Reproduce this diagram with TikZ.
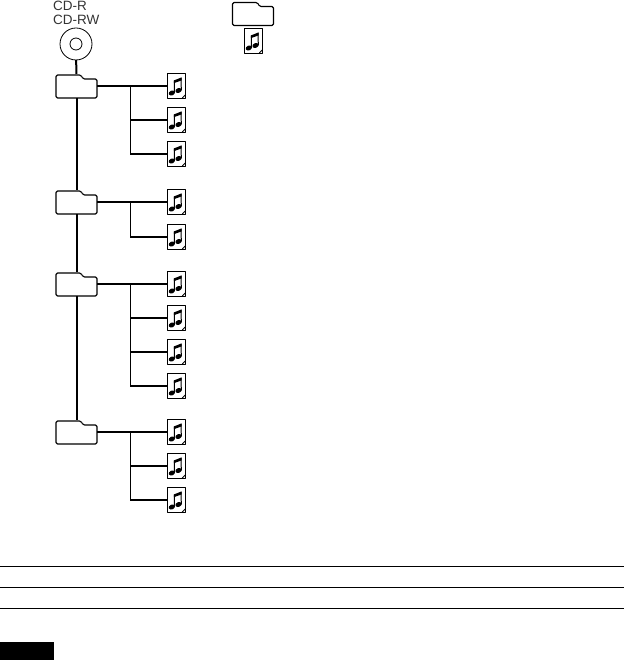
\documentclass[tikz,border=0pt]{standalone}
\usepackage{fontspec}
\setmainfont{Liberation Sans}
\usetikzlibrary{calc, positioning}
\definecolor{labelgrey}{gray}{0.2}
\tikzset{
  link/.style={line width=2pt},
  armlink/.style={line width=1.6pt},
  outline/.style={line width=1.1pt, line join=round},
  sheet/.style={minimum width=18.5pt, minimum height=25pt, inner sep=0pt, outer sep=0pt},
  foldernode/.style={minimum width=41pt, minimum height=24pt, inner sep=0pt, outer sep=0pt},
  rule/.style={line width=1.1pt},
  disclabel/.style={font=\fontsize{13.5}{15}\selectfont, text=labelgrey, inner sep=0pt, anchor=west},
}
% folder outline round a named node
\newcommand{\folderat}[3]{%
  \node[foldernode] (#1) at (#2,#3) {};
  \draw[outline, rounded corners=1.5pt] (#1.south west) -- ($(#1.north west)+(0,1)$)
    -- ($(#1.north west)+(25,1)$) -- ($(#1.north west)+(27,5)$)
    -- ($(#1.north east)+(0,5)$) -- (#1.south east) -- cycle;
}
% music sheet with its two notes
\newcommand{\sheetat}[3]{%
  \node[sheet] (#1) at (#2,#3) {};
  \draw[outline] (#1.north west) rectangle (#1.south east);
  \draw[line width=0.8pt] ($(#1.south east)+(-3.5,-0.5)$) -- ($(#1.south east)+(-0.5,-3.5)$);
  \begin{scope}[shift={(#1.center)}]
    \fill[rotate around={25:(-4.7,7)}] (-4.7,7) ellipse (3.2 and 2.4);
    \fill[rotate around={25:(2,4.5)}] (2,4.5) ellipse (3.2 and 2.4);
    \draw[line width=1pt] (-2,7) -- (-2.2,-5.5);
    \draw[line width=1pt] (4.8,4.5) -- (4.6,-8);
    \fill (-2.7,-5.5) -- (5.1,-8.6) -- (5.1,-5.6) -- (-2.7,-2.8) -- cycle;
  \end{scope}
}

\begin{document}
\begin{tikzpicture}[x=1pt, y=-1pt]
  \useasboundingbox (0,0) rectangle (624,660);

  \node[disclabel] (cdr) at (53,5.5) {CD-R};
  \node[disclabel] (cdrw) at (53,19.5) {CD-RW};
  \node[draw, circle, line width=0.8pt, minimum size=32pt, inner sep=0pt, outer sep=0pt] (disc) at (76,44) {};
  \node[draw, circle, line width=0.8pt, minimum size=12pt, inner sep=0pt] (hole) at (76,44) {};

  % legend
  \folderat{keyfolder}{253}{13.5}
  \sheetat{keyfile}{253.5}{41}

  % folders
  \folderat{fa}{76.5}{86}
  \folderat{fb}{76.5}{202}
  \folderat{fc}{76.5}{284}
  \folderat{fd}{76.5}{432}

  % files
  \foreach \name/\ypos in {ta/86, tb/120, tc/154, td/202, te/237, tf/284, tg/318, th/352, ti/386, tj/432, tk/466, tl/500}
    \sheetat{\name}{176.5}{\ypos};

  \draw[link] (disc) -- (fa);
  \draw[link] (fa) -- (fb);
  \draw[link] (fb) -- (fc);
  \draw[link] (fc) -- (fd);

  \coordinate (ba) at (130,86);
  \coordinate (bb) at (130,202);
  \coordinate (bc) at (130,284);
  \coordinate (bd) at (130,432);

  \draw[armlink] (fa) -- (ta);
  \draw[armlink] (fb) -- (td);
  \draw[armlink] (fc) -- (tf);
  \draw[armlink] (fd) -- (tj);

  \foreach \from/\to in {ba/tb, ba/tc, bb/te, bc/tg, bc/th, bc/ti, bd/tk, bd/tl}{
    \draw[line width=1pt] (\from) -- (\from |- \to);
    \draw[armlink] (\from |- \to) -- (\to);
  }

  % rules and black tab
  \coordinate (ra) at (0,566.5);
  \coordinate (rb) at (0,587.5);
  \coordinate (rc) at (0,608.5);
  \foreach \r in {ra, rb, rc}
    \draw[rule] (\r) -- ++(624,0);
  \fill (0,642) rectangle (54,660);
\end{tikzpicture}
\end{document}
